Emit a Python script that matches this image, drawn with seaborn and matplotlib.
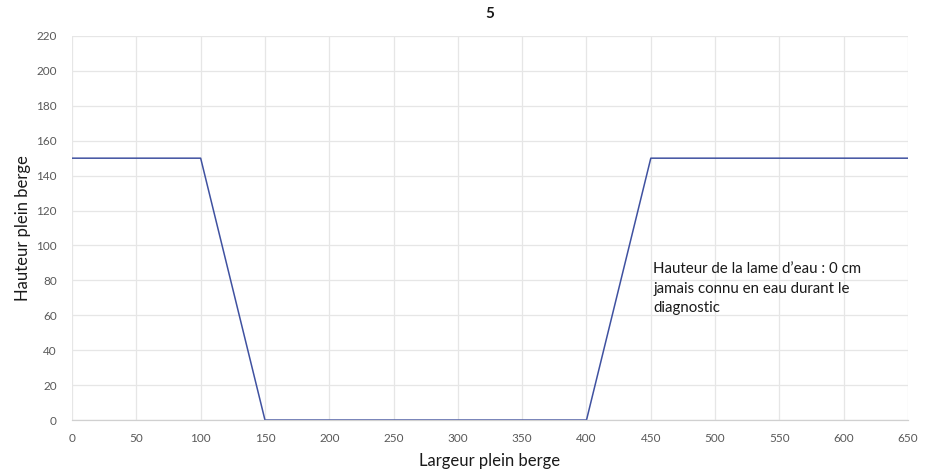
import matplotlib
matplotlib.use("Agg")
import matplotlib.pyplot as plt
import seaborn as sns
import pandas as pd

# Cross-section profile of the channel
largeur = [0, 100, 150, 400, 450, 650]
hauteur = [150, 150, 0, 0, 150, 150]
x_ticks = list(range(0, 651, 50))
y_ticks = list(range(0, 221, 20))
titre = "5"
note = "Hauteur de la lame d\u2019eau : 0 cm\njamais connu en eau durant le\ndiagnostic"

sns.set_theme(style="whitegrid")
plt.rcParams["font.family"] = ["Lato", "DejaVu Sans"]

df = pd.DataFrame({"Largeur plein berge": largeur, "Hauteur plein berge": hauteur})

fig = plt.figure(figsize=(9.26, 4.76), dpi=100)
ax = fig.add_axes([0.0778, 0.1176, 0.9028, 0.8068])

sns.lineplot(data=df, x="Largeur plein berge", y="Hauteur plein berge", ax=ax,
             color="#3F51A0", linewidth=1.1, sort=False)

ax.set_xlim(0, 650)
ax.set_ylim(0, 220)
ax.set_xticks(x_ticks)
ax.set_yticks(y_ticks)
ax.tick_params(axis="both", labelsize=8.5, labelcolor="#595959", length=0)
ax.tick_params(axis="x", pad=9)
ax.tick_params(axis="y", pad=11)
ax.grid(True, color="#E6E6E6", linewidth=0.9)
for side in ["top", "right", "left"]:
    ax.spines[side].set_visible(False)
ax.spines["bottom"].set_color("#D0D0D0")
ax.spines["bottom"].set_linewidth(0.9)

ax.set_xlabel("Largeur plein berge", fontsize=12, color="#1a1a1a", labelpad=7)
ax.set_ylabel("Hauteur plein berge", fontsize=12, color="#1a1a1a", labelpad=4)
fig.text(0.529, 0.97, titre, ha="center", va="center", fontsize=11,
         color="#1a1a1a", fontweight="bold")

ax.text(452, 90.5, note, ha="left", va="top", fontsize=10.8, color="#1a1a1a",
        linespacing=1.5)

fig.savefig("out.png", dpi=100)
